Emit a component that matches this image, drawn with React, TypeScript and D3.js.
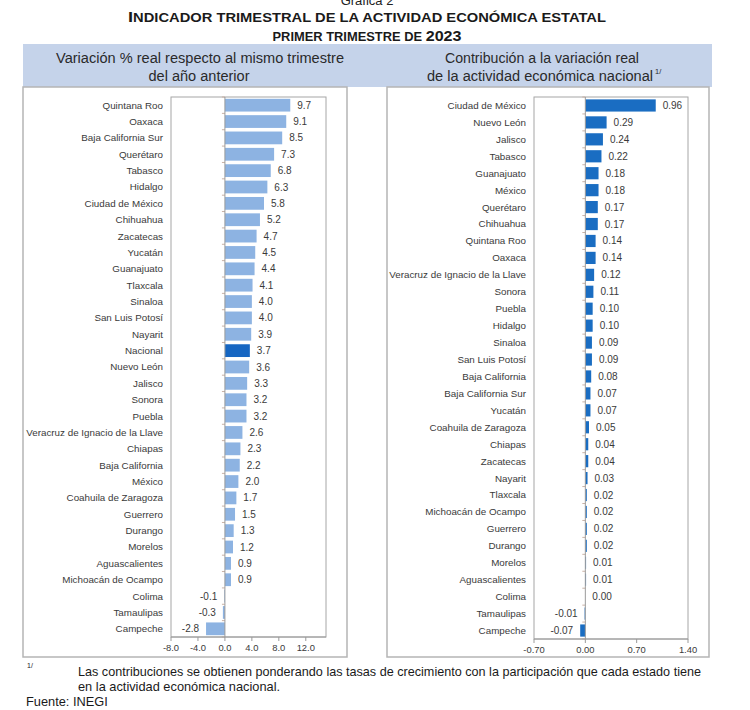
import React from "react";
import * as d3 from "d3";

const leftCats = [
  "Quintana Roo", "Oaxaca", "Baja California Sur", "Querétaro", "Tabasco", "Hidalgo",
  "Ciudad de México", "Chihuahua", "Zacatecas", "Yucatán", "Guanajuato", "Tlaxcala",
  "Sinaloa", "San Luis Potosí", "Nayarit", "Nacional", "Nuevo León", "Jalisco", "Sonora",
  "Puebla", "Veracruz de Ignacio de la Llave", "Chiapas", "Baja California", "México",
  "Coahuila de Zaragoza", "Guerrero", "Durango", "Morelos", "Aguascalientes",
  "Michoacán de Ocampo", "Colima", "Tamaulipas", "Campeche",
];
const leftVals = [
  9.7, 9.1, 8.5, 7.3, 6.8, 6.3, 5.8, 5.2, 4.7, 4.5, 4.4, 4.1, 4.0, 4.0, 3.9, 3.7, 3.6,
  3.3, 3.2, 3.2, 2.6, 2.3, 2.2, 2.0, 1.7, 1.5, 1.3, 1.2, 0.9, 0.9, -0.1, -0.3, -2.8,
];
const leftTicks = [-8, -4, 0, 4, 8, 12];

const rightCats = [
  "Ciudad de México", "Nuevo León", "Jalisco", "Tabasco", "Guanajuato", "México",
  "Querétaro", "Chihuahua", "Quintana Roo", "Oaxaca", "Veracruz de Ignacio de la Llave",
  "Sonora", "Puebla", "Hidalgo", "Sinaloa", "San Luis Potosí", "Baja California",
  "Baja California Sur", "Yucatán", "Coahuila de Zaragoza", "Chiapas", "Zacatecas",
  "Nayarit", "Tlaxcala", "Michoacán de Ocampo", "Guerrero", "Durango", "Morelos",
  "Aguascalientes", "Colima", "Tamaulipas", "Campeche",
];
const rightVals = [
  0.96, 0.29, 0.24, 0.22, 0.18, 0.18, 0.17, 0.17, 0.14, 0.14, 0.12, 0.11, 0.10, 0.10,
  0.09, 0.09, 0.08, 0.07, 0.07, 0.05, 0.04, 0.04, 0.03, 0.02, 0.02, 0.02, 0.02, 0.01,
  0.01, 0.00, -0.01, -0.07,
];
const rightTicks = [-0.7, 0, 0.7, 1.4];

const FONT = "'Liberation Sans', Arial, sans-serif";
const TXT = "#3a3a3a";

type PanelProps = {
  cats: string[];
  vals: number[];
  ticks: number[];
  domain: [number, number];
  xRange: [number, number];
  yRange: [number, number];
  padding: number;
  fmt: (v: number) => string;
  tickFmt: (v: number) => string;
  color: (c: string) => string;
};

function Panel({ cats, vals, ticks, domain, xRange, yRange, padding, fmt, tickFmt, color }: PanelProps) {
  const x = d3.scaleLinear().domain(domain).range(xRange);
  const y = d3.scaleBand<string>().domain(cats).range(yRange).paddingInner(padding).paddingOuter(padding / 2);
  const step = (yRange[1] - yRange[0]) / cats.length;
  const x0 = x(0);
  return (
    <g fontFamily={FONT}>
      <rect x={xRange[0]} y={yRange[0]} width={xRange[1] - xRange[0]} height={yRange[1] - yRange[0]}
        fill="#fff" stroke="#a6a6a6" strokeWidth={1} />
      {cats.map((c, i) => {
        const v = vals[i];
        const yy = y(c)!;
        const bx = Math.min(x(v), x0);
        const bw = Math.abs(x(v) - x0);
        const cy = yy + y.bandwidth() / 2;
        return (
          <g key={c}>
            <rect x={bx} y={yy} width={bw} height={y.bandwidth()} fill={color(c)} />
            <text x={xRange[0] - 8} y={cy} dy="0.35em" textAnchor="end" fontSize={9.8} fill={TXT}>{c}</text>
            <text x={v < 0 ? bx - 7 : x(v) + 7} y={cy} dy="0.35em" textAnchor={v < 0 ? "end" : "start"}
              fontSize={10} fill={TXT}>{fmt(v)}</text>
          </g>
        );
      })}
      {d3.range(cats.length + 1).map((i) => (
        <line key={"ct" + i} x1={x0 - 3} x2={x0} y1={yRange[0] + i * step} y2={yRange[0] + i * step}
          stroke="#c9b2a6" strokeWidth={1} />
      ))}
      <line x1={x0} x2={x0} y1={yRange[0]} y2={yRange[1]} stroke="#9a9a9a" strokeWidth={1} />
      <line x1={xRange[0]} x2={xRange[1]} y1={yRange[1]} y2={yRange[1]} stroke="#9a9a9a" strokeWidth={1} />
      {ticks.map((t) => (
        <g key={"t" + t}>
          <line x1={x(t)} x2={x(t)} y1={yRange[1]} y2={yRange[1] + 4} stroke="#9a9a9a" strokeWidth={1} />
          <text x={x(t)} y={yRange[1] + 14} textAnchor="middle" fontSize={9.4} fill={TXT}>{tickFmt(t)}</text>
        </g>
      ))}
    </g>
  );
}

export default function App() {
  return (
    <div style={{ position: "absolute", left: 0, top: 0 }}>
      <svg width={750} height={710} style={{ display: "block", background: "#fff" }}>
        <text x={367} y={5} textAnchor="middle" fontFamily={FONT} fontSize={13} fill="#222">Gráfica 2</text>
        <text x={367} y={22} textAnchor="middle" fontFamily={FONT} fontWeight="bold" fill="#1a1a1a"
          textLength={478} lengthAdjust="spacingAndGlyphs">
          <tspan fontSize={15.5}>I</tspan>
          <tspan fontSize={12.5}>NDICADOR TRIMESTRAL DE LA ACTIVIDAD ECONÓMICA ESTATAL</tspan>
        </text>
        <text x={367} y={41} textAnchor="middle" fontFamily={FONT} fontWeight="bold" fill="#1a1a1a"
          textLength={189} lengthAdjust="spacingAndGlyphs">
          <tspan fontSize={12}>PRIMER TRIMESTRE DE </tspan>
          <tspan fontSize={15}>2023</tspan>
        </text>

        <rect x={23} y={44} width={689} height={43} fill="#c5d3ea" />
        <g fontFamily={FONT} fontSize={14} fill="#2a2a2a" textAnchor="middle">
          <text x={200} y={63} textLength={288} lengthAdjust="spacingAndGlyphs">Variación % real respecto al mismo trimestre</text>
          <text x={199} y={81} textLength={101} lengthAdjust="spacingAndGlyphs">del año anterior</text>
          <text x={542} y={63} textLength={194} lengthAdjust="spacingAndGlyphs">Contribución a la variación real</text>
          <text x={540} y={81} textLength={226} lengthAdjust="spacingAndGlyphs">de la actividad económica nacional</text>
          <text x={655} y={74} fontSize={7.5} textAnchor="start">1/</text>
        </g>

        <rect x={23} y={87} width={324} height={570} fill="#fff" stroke="#b5b5b5" strokeWidth={1.5} />
        <rect x={387} y={87} width={322} height={570} fill="#fff" stroke="#b5b5b5" strokeWidth={1.5} />

        <Panel cats={leftCats} vals={leftVals} ticks={leftTicks} domain={[-8, 15]} xRange={[171, 326]}
          yRange={[97, 637]} padding={0.22} fmt={(v) => v.toFixed(1)} tickFmt={(v) => v.toFixed(1)}
          color={(c) => (c === "Nacional" ? "#1666c2" : "#8db3e2")} />
        <Panel cats={rightCats} vals={rightVals} ticks={rightTicks} domain={[-0.7, 1.4]} xRange={[534, 688]}
          yRange={[97, 639]} padding={0.28} fmt={(v) => v.toFixed(2)} tickFmt={(v) => v.toFixed(2)}
          color={() => "#1a6dc2"} />

        <g fontFamily={FONT} fill="#1a1a1a">
          <text x={27} y={668} fontSize={7}>1/</text>
          <text x={78} y={676} fontSize={12.8} textLength={623} lengthAdjust="spacingAndGlyphs">Las contribuciones se obtienen ponderando las tasas de crecimiento con la participación que cada estado tiene</text>
          <text x={78} y={691} fontSize={12.8}>en la actividad económica nacional.</text>
          <text x={26} y={706} fontSize={12.8}>Fuente: INEGI</text>
        </g>
      </svg>
    </div>
  );
}
